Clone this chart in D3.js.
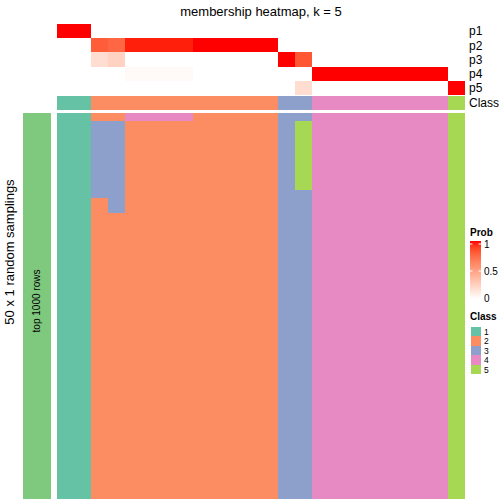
<!DOCTYPE html>
<html>
<head>
<meta charset="utf-8">
<script src="https://cdn.jsdelivr.net/npm/d3@7/dist/d3.min.js"></script>
<style>
  html, body { margin: 0; padding: 0; background: #fff; }
  svg { display: block; font-family: "Liberation Sans", Arial, Helvetica, sans-serif; }
</style>
</head>
<body>
<svg id="chart" width="504" height="504"></svg>
<script>
// ---------------- DATA ----------------
const title = "membership heatmap, k = 5";
const probRows = ["p1", "p2", "p3", "p4", "p5"];
const p1 = [1, 1, 0, 0, 0, 0, 0, 0, 0, 0, 0, 0, 0, 0, 0, 0, 0, 0, 0, 0, 0, 0, 0, 0];
const p2 = [0, 0, 0.8, 0.76, 0.97, 0.97, 0.97, 0.97, 1, 1, 1, 1, 1, 0, 0, 0, 0, 0, 0, 0, 0, 0, 0, 0];
const p3 = [0, 0, 0.18, 0.24, 0, 0, 0, 0, 0, 0, 0, 0, 0, 1, 0.82, 0, 0, 0, 0, 0, 0, 0, 0, 0];
const p4 = [0, 0, 0, 0, 0.03, 0.03, 0.03, 0.03, 0, 0, 0, 0, 0, 0, 0, 1, 1, 1, 1, 1, 1, 1, 1, 0];
const p5 = [0, 0, 0, 0, 0, 0, 0, 0, 0, 0, 0, 0, 0, 0, 0.18, 0, 0, 0, 0, 0, 0, 0, 0, 1];
const classRow = [1, 1, 2, 2, 2, 2, 2, 2, 2, 2, 2, 2, 2, 3, 3, 4, 4, 4, 4, 4, 4, 4, 4, 5];
// class assignments of the 50 random samplings, per column, as runs [class, count] from top
const samplingRuns = [
  [[1, 50]], [[1, 50]],
  [[2, 1], [3, 10], [2, 39]],
  [[2, 1], [3, 12], [2, 37]],
  [[4, 1], [2, 49]], [[4, 1], [2, 49]], [[4, 1], [2, 49]], [[4, 1], [2, 49]],
  [[2, 50]], [[2, 50]], [[2, 50]], [[2, 50]], [[2, 50]],
  [[3, 50]],
  [[3, 1], [5, 9], [3, 40]],
  [[4, 50]], [[4, 50]], [[4, 50]], [[4, 50]], [[4, 50]], [[4, 50]], [[4, 50]], [[4, 50]],
  [[5, 50]]
];
const nSamplings = 50;
const classLabels = [1, 2, 3, 4, 5];
const classColors = ["#66C2A5", "#FC8D62", "#8DA0CB", "#E78AC3", "#A6D854"];
const probTicks = [0, 0.5, 1];
const sideLabel = "50 x 1 random samplings";
const groupLabel = "top 1000 rows";
const groupColor = "#7FC97F";

// ---------------- DRAW ----------------
const svg = d3.select("#chart");
const nCols = classRow.length;
const probData = [p1, p2, p3, p4, p5];

const x = d3.scaleBand().domain(d3.range(nCols)).range([57, 465]);
const yP = d3.scaleBand().domain(probRows).range([24, 95]);
const yClass = [96, 110];
const yS = d3.scaleBand().domain(d3.range(nSamplings)).range([113, 499]);
const probColor = d3.scaleLinear().domain([0, 1]).range(["#FFFFFF", "#FF0000"]).interpolate(d3.interpolateLab);
const classColor = d3.scaleOrdinal().domain(classLabels).range(classColors);

const g = svg.append("g").attr("shape-rendering", "crispEdges");

// probability rows
probRows.forEach((r, i) => {
  g.selectAll(null).data(probData[i]).enter().append("rect")
    .attr("x", (d, j) => x(j)).attr("width", x.bandwidth() + 0.3)
    .attr("y", yP(r)).attr("height", yP.bandwidth() + 0.3)
    .attr("fill", d => probColor(d));
});

// class row
g.selectAll(null).data(classRow).enter().append("rect")
  .attr("x", (d, j) => x(j)).attr("width", x.bandwidth() + 0.3)
  .attr("y", yClass[0]).attr("height", yClass[1] - yClass[0])
  .attr("fill", d => classColor(d));

// samplings heatmap
const cells = [];
samplingRuns.forEach((runs, j) => {
  let r = 0;
  runs.forEach(([c, n]) => {
    cells.push({ col: j, start: r, n: n, cls: c });
    r += n;
  });
});
g.selectAll(null).data(cells).enter().append("rect")
  .attr("x", d => x(d.col)).attr("width", x.bandwidth() + 0.3)
  .attr("y", d => yS(d.start))
  .attr("height", d => yS.step() * d.n + 0.3)
  .attr("fill", d => classColor(d.cls));

// left group bar
g.append("rect").attr("x", 23).attr("width", 28)
  .attr("y", yS.range()[0]).attr("height", yS.range()[1] - yS.range()[0])
  .attr("fill", groupColor);

svg.append("text").attr("transform", "translate(40,301) rotate(-90)")
  .attr("text-anchor", "middle").attr("font-size", 10).attr("fill", "#000")
  .text(groupLabel);

svg.append("text").attr("transform", "translate(14,252) rotate(-90)")
  .attr("text-anchor", "middle").attr("font-size", 13).attr("fill", "#000")
  .text(sideLabel);

// title
svg.append("text").attr("x", 261).attr("y", 16).attr("text-anchor", "middle")
  .attr("font-size", 13).attr("fill", "#000").text(title);

// row labels
probRows.forEach(r => {
  svg.append("text").attr("x", 469).attr("y", yP(r) + yP.bandwidth() / 2 + 4.3)
    .attr("font-size", 12).attr("fill", "#000").text(r);
});
svg.append("text").attr("x", 469).attr("y", (yClass[0] + yClass[1]) / 2 + 4.3)
  .attr("font-size", 12).attr("fill", "#000").text("Class");

// Prob legend
const lg = svg.append("g");
lg.append("text").attr("x", 470).attr("y", 236).attr("font-size", 10)
  .attr("font-weight", "bold").text("Prob");
const defs = svg.append("defs");
const grad = defs.append("linearGradient").attr("id", "pgrad")
  .attr("x1", 0).attr("y1", 1).attr("x2", 0).attr("y2", 0);
d3.range(0, 1.0001, 0.1).forEach(t => {
  grad.append("stop").attr("offset", t).attr("stop-color", probColor(t));
});
const yL = d3.scaleLinear().domain([0, 1]).range([298, 244]);
lg.append("rect").attr("x", 470).attr("y", 241).attr("width", 11).attr("height", 58)
  .attr("fill", "url(#pgrad)");
probTicks.forEach(t => {
  lg.append("line").attr("x1", 470).attr("x2", 472.5).attr("y1", yL(t)).attr("y2", yL(t))
    .attr("stroke", "#fff").attr("stroke-width", 1);
  lg.append("line").attr("x1", 478.5).attr("x2", 481).attr("y1", yL(t)).attr("y2", yL(t))
    .attr("stroke", "#fff").attr("stroke-width", 1);
  lg.append("text").attr("x", 484).attr("y", yL(t) + 3.6).attr("font-size", 10)
    .text(t === 0.5 ? "0.5" : String(t));
});

// Class legend
lg.append("text").attr("x", 470).attr("y", 320).attr("font-size", 10)
  .attr("font-weight", "bold").text("Class");
const yC = d3.scaleBand().domain(classLabels).range([327, 374]);
classLabels.forEach(c => {
  lg.append("rect").attr("x", 470.5).attr("y", yC(c)).attr("width", 10.5).attr("height", yC.bandwidth())
    .attr("fill", classColor(c)).attr("shape-rendering", "crispEdges");
  lg.append("text").attr("x", 484).attr("y", yC(c) + yC.bandwidth() / 2 + 3.2)
    .attr("font-size", 8.5).text(String(c));
});
</script>
</body>
</html>
